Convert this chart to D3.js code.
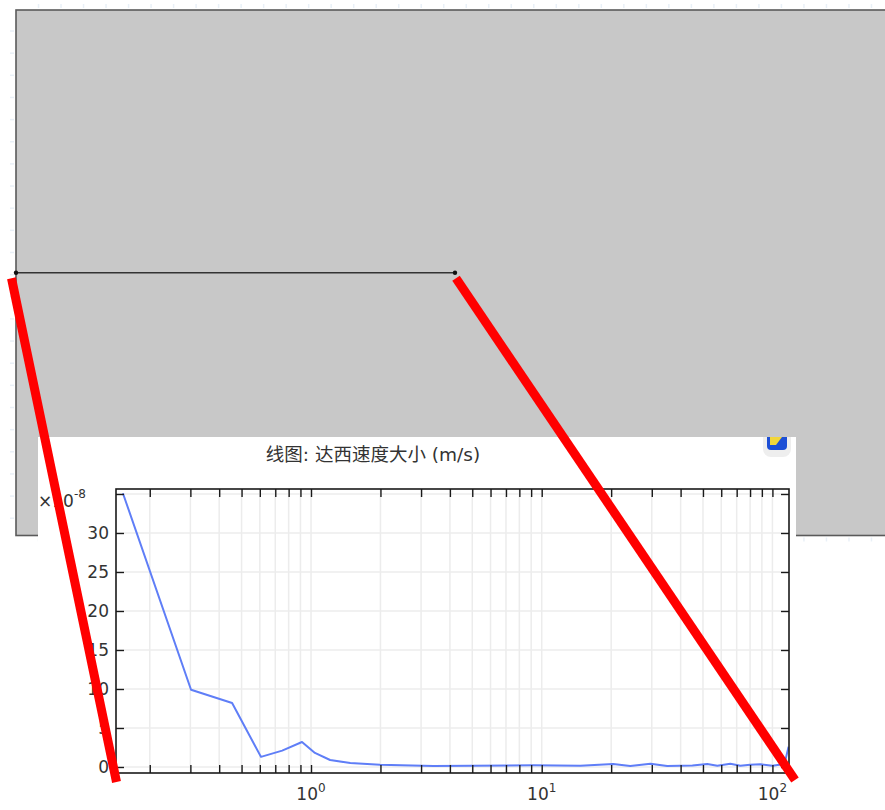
<!DOCTYPE html>
<html>
<head>
<meta charset="utf-8">
<script src="https://cdn.jsdelivr.net/npm/d3@7"></script>
<style>
  html, body { margin: 0; padding: 0; background: #ffffff; }
  svg { display: block; }
</style>
</head>
<body>
<svg id="chart" width="885" height="810"></svg>
<script>
// ---- Geometry (model units) ----
const geomWidth = 240;          // domain extends past the right edge of the view
const geomHeight = 140;
const cutLineY = 70;            // horizontal cut line through the middle
const cutLineStart = 0;
const cutLineEnd = 117;
const geomTicksX = [6, 12, 18, 24, 30, 36, 42, 48, 54, 60, 66, 72, 78, 84, 90, 96, 102, 108, 114, 120, 126, 132, 138, 144, 150, 156, 162, 168, 174, 180, 186, 192, 198, 204, 210, 216, 222, 228, 234];
const geomTicksY = [134.4, 128.5, 122.6, 116.7, 110.8, 104.9, 99, 93.1, 87.2, 81.3, 75.4, 69.5, 63.6, 57.7, 51.8, 45.9, 40, 34.1, 28.2, 22.3, 16.4, 10.5, 4.6];

// ---- Line graph: Darcy velocity magnitude along the cut line ----
const arcLength = [0.153, 0.302, 0.455, 0.607, 0.75, 0.914, 1.04, 1.21, 1.48, 1.99, 3.4, 5.0, 9.2, 14.7, 20.4, 24.2, 29.6, 35, 45, 52.2, 57.7, 65.7, 72.6, 80, 88.7, 100, 112.8, 117.5];
const darcySpeed = [3.51e-7, 9.9e-8, 8.2e-8, 1.3e-8, 2.1e-8, 3.2e-8, 1.8e-8, 0.9e-8, 0.5e-8, 0.3e-8, 0.13e-8, 0.15e-8, 0.22e-8, 0.17e-8, 0.38e-8, 0.13e-8, 0.42e-8, 0.13e-8, 0.2e-8, 0.38e-8, 0.17e-8, 0.42e-8, 0.17e-8, 0.3e-8, 0.35e-8, 0.17e-8, 0.38e-8, 2.6e-8];

const yTickValues = [0, 5e-8, 10e-8, 15e-8, 20e-8, 25e-8, 30e-8, 35e-8];
const yTickLabels = ["0", "5", "10", "15", "20", "25", "30", ""];
const xMajorTicks = [1, 10, 100];
const xMajorLabels = ["0", "1", "2"];   // exponents of 10
const xMinorTicks = [0.2, 0.3, 0.4, 0.5, 0.6, 0.7, 0.8, 0.9, 2, 3, 4, 5, 6, 7, 8, 9, 20, 30, 40, 50, 60, 70, 80, 90];

const titleText = "线图: 达西速度大小 (m/s)";
const yMultiplier = "×10";
const yMultiplierExp = "-8";

const svg = d3.select("#chart");
const FONT = "'DejaVu Sans', 'Noto Sans CJK SC', sans-serif";

// ---- Geometry view ----
const gx = d3.scaleLinear().domain([0, 117]).range([16, 455]);
const gy = d3.scaleLinear().domain([0, geomHeight]).range([535.5, 10]);

// faint axis ticks around the geometry
const faint = svg.append("g").attr("stroke", "#e9f0f7").attr("stroke-width", 1.5);
faint.selectAll("line.tx").data(geomTicksX).join("line")
  .attr("x1", d => gx(d)).attr("x2", d => gx(d))
  .attr("y1", gy(geomHeight) - 6).attr("y2", gy(geomHeight) - 2);
faint.selectAll("line.bx").data(geomTicksX).join("line")
  .attr("x1", d => gx(d)).attr("x2", d => gx(d))
  .attr("y1", gy(0) + 2).attr("y2", gy(0) + 6);
faint.selectAll("line.ly").data(geomTicksY).join("line")
  .attr("x1", gx(0) - 6).attr("x2", gx(0) - 2)
  .attr("y1", d => gy(d)).attr("y2", d => gy(d));

svg.append("rect")
  .attr("x", gx(0)).attr("y", gy(geomHeight))
  .attr("width", gx(geomWidth) - gx(0))
  .attr("height", gy(0) - gy(geomHeight))
  .attr("fill", "#c8c8c8")
  .attr("stroke", "#5a5a5a").attr("stroke-width", 1.6);

svg.append("line")
  .attr("x1", gx(cutLineStart)).attr("x2", gx(cutLineEnd))
  .attr("y1", gy(cutLineY)).attr("y2", gy(cutLineY))
  .attr("stroke", "#333").attr("stroke-width", 1.4);
svg.selectAll("circle.endpt").data([cutLineStart, cutLineEnd]).join("circle")
  .attr("cx", d => gx(d)).attr("cy", gy(cutLineY)).attr("r", 2.2).attr("fill", "#111");

// ---- Inset panel with the line graph ----
const panel = { x0: 38, y0: 437, x1: 796, y1: 812 };
svg.append("clipPath").attr("id", "panelClip").append("rect")
  .attr("x", panel.x0).attr("y", panel.y0)
  .attr("width", panel.x1 - panel.x0).attr("height", panel.y1 - panel.y0);
const inset = svg.append("g");
inset.append("rect")
  .attr("x", panel.x0).attr("y", panel.y0)
  .attr("width", panel.x1 - panel.x0).attr("height", panel.y1 - panel.y0)
  .attr("fill", "#ffffff");

// toolbar icon, partly hidden under the top edge
const icon = inset.append("g").attr("clip-path", "url(#panelClip)");
icon.append("rect").attr("x", 763).attr("y", 428).attr("width", 28).attr("height", 29).attr("rx", 8)
  .attr("fill", "#eeeeee");
icon.append("rect").attr("x", 767).attr("y", 426).attr("width", 20).attr("height", 24).attr("rx", 4)
  .attr("fill", "#1d4fd6");
icon.append("path").attr("d", "M770,437 L782,437 L776,445 L770,445 Z").attr("fill", "#f2d63a");

inset.append("text")
  .attr("x", 373).attr("y", 461)
  .attr("text-anchor", "middle")
  .attr("font-family", FONT).attr("font-size", 18.5).attr("fill", "#333")
  .text(titleText);

const x = d3.scaleLog().domain([0.1428, 118]).range([116, 789]);
const y = d3.scaleLinear().domain([-0.77e-8, 35.64e-8]).range([773, 489]);
const [xl, xr] = x.range();
const [yb, yt] = y.range();

// grid
const grid = inset.append("g").attr("stroke", "#ececec").attr("stroke-width", 1.5);
grid.selectAll("line.gx").data(xMinorTicks.concat(xMajorTicks)).join("line")
  .attr("x1", d => x(d)).attr("x2", d => x(d)).attr("y1", yt).attr("y2", yb);
grid.selectAll("line.gy").data(yTickValues).join("line")
  .attr("x1", xl).attr("x2", xr).attr("y1", d => y(d)).attr("y2", d => y(d));

// data line
svg.append("clipPath").attr("id", "plotClip").append("rect")
  .attr("x", xl).attr("y", yt).attr("width", xr - xl).attr("height", yb - yt);
const pts = arcLength.map((a, i) => [a, darcySpeed[i]]);
inset.append("path")
  .datum(pts)
  .attr("clip-path", "url(#plotClip)")
  .attr("fill", "none")
  .attr("stroke", "#5f7ef7").attr("stroke-width", 2)
  .attr("stroke-linejoin", "round")
  .attr("d", d3.line().x(d => x(d[0])).y(d => y(d[1])));

// axes: inward ticks on all four sides
const TL = 8;
const allX = xMinorTicks.concat(xMajorTicks);
const axisStyle = g => {
  g.select(".domain").remove();
  g.selectAll(".tick line").attr("stroke", "#1a1a1a").attr("stroke-width", 1.4);
  g.selectAll(".tick text").remove();
};
inset.append("g").attr("transform", `translate(0,${yb})`)
  .call(d3.axisTop(x).tickValues(allX).tickSize(TL)).call(axisStyle);
inset.append("g").attr("transform", `translate(0,${yt})`)
  .call(d3.axisBottom(x).tickValues(allX).tickSize(TL)).call(axisStyle);
inset.append("g").attr("transform", `translate(${xl},0)`)
  .call(d3.axisRight(y).tickValues(yTickValues).tickSize(TL)).call(axisStyle);
inset.append("g").attr("transform", `translate(${xr},0)`)
  .call(d3.axisLeft(y).tickValues(yTickValues).tickSize(TL)).call(axisStyle);

inset.append("rect")
  .attr("x", xl).attr("y", yt).attr("width", xr - xl).attr("height", yb - yt)
  .attr("fill", "none").attr("stroke", "#1a1a1a").attr("stroke-width", 1.6);

// y tick labels
inset.append("g").selectAll("text").data(yTickValues).join("text")
  .attr("x", xl - 7).attr("y", d => y(d))
  .attr("dy", "0.36em")
  .attr("text-anchor", "end")
  .attr("font-family", FONT).attr("font-size", 17).attr("fill", "#333")
  .text((d, i) => yTickLabels[i]);

// x tick labels as powers of ten
const xlab = inset.append("g").selectAll("text").data(xMajorTicks).join("text")
  .attr("x", d => x(d)).attr("y", 800)
  .attr("text-anchor", "middle")
  .attr("font-family", FONT).attr("font-size", 17).attr("fill", "#333");
xlab.append("tspan").text("10");
xlab.append("tspan").attr("dy", -8).attr("font-size", 12).text((d, i) => xMajorLabels[i]);

// multiplier
const mult = inset.append("text")
  .attr("x", 38).attr("y", 507)
  .attr("font-family", FONT).attr("font-size", 17).attr("fill", "#333");
mult.append("tspan").text(yMultiplier);
mult.append("tspan").attr("dy", -9).attr("font-size", 12).text(yMultiplierExp);

// ---- Red connector lines from the cut-line ends to the graph's x extent ----
const connectors = [
  [[gx(cutLineStart) - 4.5, gy(cutLineY) + 5.5], [xl + 0.5, yb + 9]],
  [[gx(cutLineEnd) + 1, gy(cutLineY) + 5.5], [xr + 6, yb + 7]]
];
svg.append("g").selectAll("line").data(connectors).join("line")
  .attr("x1", d => d[0][0]).attr("y1", d => d[0][1])
  .attr("x2", d => d[1][0]).attr("y2", d => d[1][1])
  .attr("stroke", "#ff0000").attr("stroke-width", 9);
</script>
</body>
</html>
